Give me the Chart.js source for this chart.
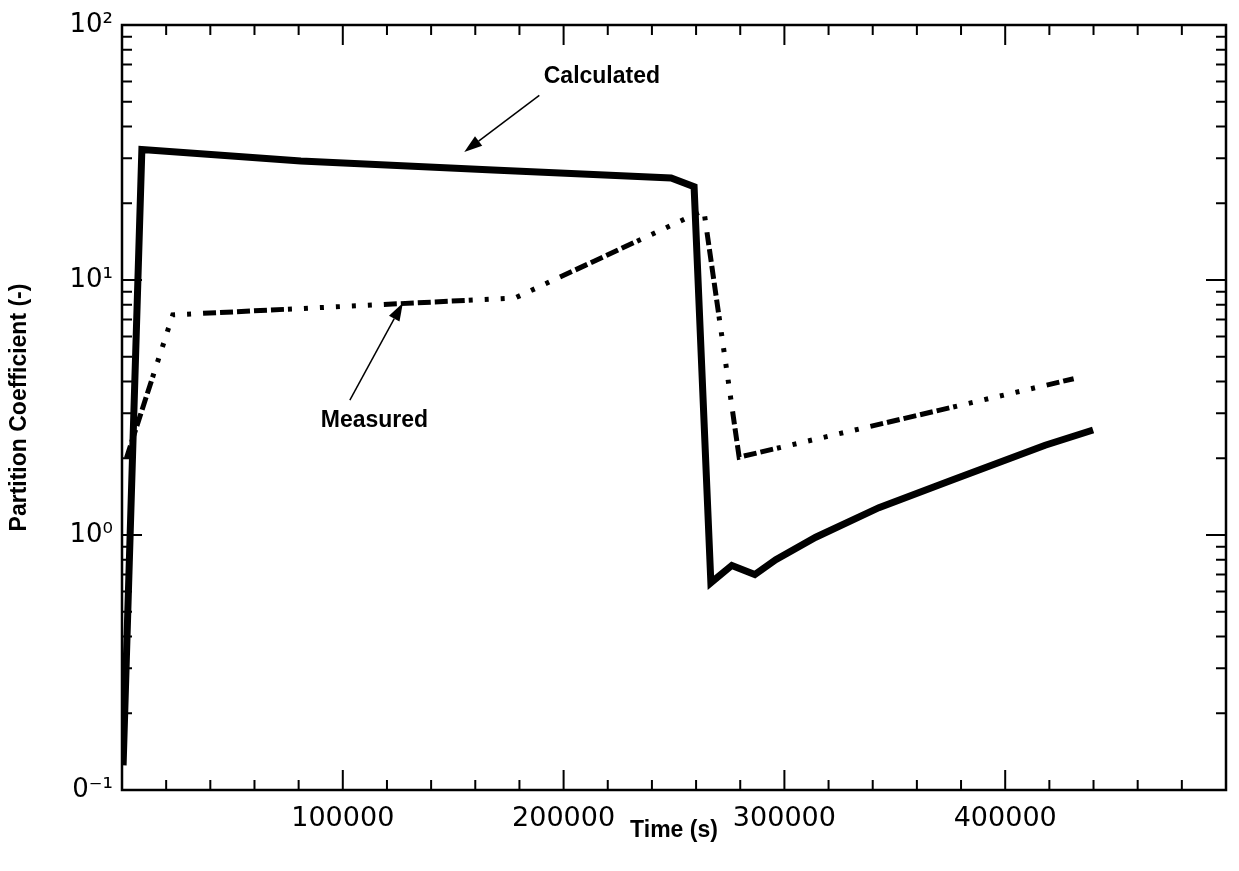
<!DOCTYPE html>
<html>
<head>
<meta charset="utf-8">
<title>Partition Coefficient</title>
<script src="https://cdn.jsdelivr.net/npm/chart.js@4"></script>
<style>
  html, body { margin: 0; padding: 0; background: #fff; }
  #chart { display: block; }
</style>
</head>
<body>
<canvas id="chart" width="1239" height="871"></canvas>
<script>
// valores
const timeCalculated = [500, 9000, 81000, 168000, 248700, 259100, 266700, 276200, 286600, 296100, 314200, 342800, 375700, 418100, 439800];
const calculated = [0.125, 32.5, 29.3, 27.0, 25.1, 23.2, 0.65, 0.76, 0.70, 0.80, 0.98, 1.28, 1.64, 2.25, 2.58];

const timeMeasured = [2000, 23000, 178000, 263500, 279500, 431000];
const measured = [2.0, 7.3, 8.5, 18.8, 2.02, 4.1];

// ejes
const xMajorTicks = [100000, 200000, 300000, 400000];
const yDecades = [0.1, 1, 10, 100];
const yDecadeLabels = ['0\u207B\u00B9', '10\u2070', '10\u00B9', '10\u00B2'];

// anotaciones: [texto, x texto, y texto, cola x, cola y, punta x, punta y]
const notes = [
    ['Calculated', 191000, 63, 189000, 53, 155000, 31.8],
    ['Measured', 90000, 2.8, 103200, 3.38, 127200, 8.13]
];

const toPoints = (xs, ys) => xs.map((x, i) => ({ x: x, y: ys[i] }));

// marco y marcas hacia dentro en los cuatro lados
const framePlugin = {
    id: 'frame',
    afterDatasetsDraw(chart) {
        const { ctx, chartArea: a, scales: { x, y } } = chart;
        ctx.save();
        ctx.strokeStyle = '#000';
        ctx.lineWidth = 2.5;
        ctx.strokeRect(a.left, a.top, a.right - a.left, a.bottom - a.top);
        ctx.lineWidth = 2;
        ctx.beginPath();
        x.ticks.forEach(t => {
            if (t.value <= x.min || t.value >= x.max) return;
            const px = x.getPixelForValue(t.value);
            const len = t.value % 100000 === 0 ? 20 : 10;
            ctx.moveTo(px, a.bottom); ctx.lineTo(px, a.bottom - len);
            ctx.moveTo(px, a.top); ctx.lineTo(px, a.top + len);
        });
        y.ticks.forEach(t => {
            if (t.value <= y.min * 1.0001 || t.value >= y.max * 0.9999) return;
            const py = y.getPixelForValue(t.value);
            const major = yDecades.some(d => Math.abs(d - t.value) < d * 1e-6);
            const len = major ? 20 : 10;
            ctx.moveTo(a.left, py); ctx.lineTo(a.left + len, py);
            ctx.moveTo(a.right, py); ctx.lineTo(a.right - len, py);
        });
        ctx.stroke();

        // textos y flechas
        ctx.fillStyle = '#000';
        ctx.font = 'bold 23px "Liberation Sans", Arial, sans-serif';
        ctx.textAlign = 'left';
        ctx.textBaseline = 'middle';
        notes.forEach(n => {
            ctx.fillText(n[0], x.getPixelForValue(n[1]), y.getPixelForValue(n[2]));
            const x0 = x.getPixelForValue(n[3]), y0 = y.getPixelForValue(n[4]);
            const x1 = x.getPixelForValue(n[5]), y1 = y.getPixelForValue(n[6]);
            const ang = Math.atan2(y1 - y0, x1 - x0);
            const head = 18, half = 6;
            const bx = x1 - head * Math.cos(ang), by = y1 - head * Math.sin(ang);
            ctx.lineWidth = 1.5;
            ctx.beginPath();
            ctx.moveTo(x0, y0); ctx.lineTo(bx, by);
            ctx.stroke();
            ctx.beginPath();
            ctx.moveTo(x1, y1);
            ctx.lineTo(bx + half * Math.sin(ang), by - half * Math.cos(ang));
            ctx.lineTo(bx - half * Math.sin(ang), by + half * Math.cos(ang));
            ctx.closePath();
            ctx.fill();
        });
        ctx.restore();
    }
};

const dashed = [];
for (let i = 0; i < 5; i++) dashed.push(13, 4);
for (let i = 0; i < 6; i++) dashed.push(4, 12);

new Chart(document.getElementById('chart'), {
    type: 'line',
    data: {
        datasets: [
            {
                label: 'Measured',
                data: toPoints(timeMeasured, measured),
                borderColor: '#000',
                borderWidth: 5,
                borderDash: dashed,
                borderCapStyle: 'butt',
                pointRadius: 0,
                tension: 0,
                fill: false
            },
            {
                label: 'Calculated',
                data: toPoints(timeCalculated, calculated),
                borderColor: '#000',
                borderWidth: 7,
                borderJoinStyle: 'miter',
                pointRadius: 0,
                tension: 0,
                fill: false
            }
        ]
    },
    options: {
        responsive: false,
        animation: false,
        layout: { padding: { top: 25, right: 13, left: 0, bottom: 0 } },
        plugins: {
            legend: { display: false },
            tooltip: { enabled: false }
        },
        scales: {
            x: {
                type: 'linear',
                min: 0,
                max: 500000,
                grid: { display: false, drawTicks: false },
                border: { display: false },
                ticks: {
                    stepSize: 20000,
                    autoSkip: false,
                    maxRotation: 0,
                    padding: 13,
                    color: '#000',
                    font: { family: '"DejaVu Sans", sans-serif', size: 27 },
                    callback: (value) => xMajorTicks.includes(value) ? String(value) : ''
                },
                title: {
                    display: true,
                    text: 'Time (s)',
                    color: '#000',
                    font: { family: '"Liberation Sans", Arial, sans-serif', size: 23, weight: 'bold' },
                    padding: { top: 0, bottom: 27 }
                },
                afterFit: (scale) => { scale.height = 81; }
            },
            y: {
                type: 'logarithmic',
                min: 0.1,
                max: 100,
                grid: { display: false, drawTicks: false },
                border: { display: false },
                afterBuildTicks: (scale) => {
                    const ticks = [];
                    yDecades.forEach((d, i) => {
                        if (i === yDecades.length - 1) { ticks.push({ value: d }); return; }
                        for (let m = 1; m < 10; m++) ticks.push({ value: d * m });
                    });
                    scale.ticks = ticks;
                },
                ticks: {
                    autoSkip: false,
                    padding: 9,
                    color: '#000',
                    font: { family: '"DejaVu Sans", sans-serif', size: 26 },
                    callback: (value) => {
                        const i = yDecades.findIndex(d => Math.abs(d - value) < d * 1e-6);
                        return i >= 0 ? yDecadeLabels[i] : '';
                    }
                },
                title: {
                    display: true,
                    text: 'Partition Coefficient (-)',
                    color: '#000',
                    font: { family: '"Liberation Sans", Arial, sans-serif', size: 23, weight: 'bold' },
                    padding: { top: 6, bottom: 0 }
                },
                afterFit: (scale) => { scale.width = 122; }
            }
        }
    },
    plugins: [framePlugin]
});
</script>
</body>
</html>
